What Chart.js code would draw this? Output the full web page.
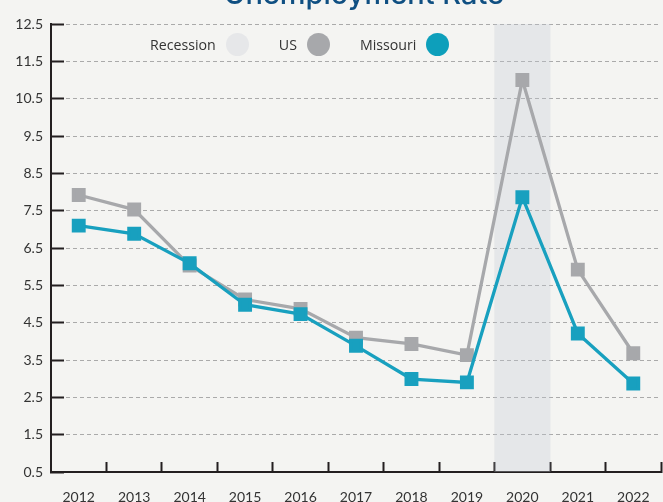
<!DOCTYPE html>
<html>
<head>
<meta charset="utf-8">
<script src="https://cdn.jsdelivr.net/npm/chart.js"></script>
<style>
  body { margin: 0; background: #f4f4f2; }
  #wrap { position: relative; width: 663px; height: 502px; overflow: hidden; }
  #legend { position: absolute; left: 150px; top: 33px; display: flex; align-items: center;
            font: 14.2px "Open Sans", sans-serif; color: #333; }
  #legend .item { display: flex; align-items: center; margin-right: 30px; }
  #legend .dot { width: 23px; height: 23px; border-radius: 50%; margin-left: 10px; }
</style>
</head>
<body>
<div id="wrap">
  <canvas id="chart" width="663" height="502"></canvas>
  <div id="legend"></div>
</div>
<script>
// data
const years = ['2012', '2013', '2014', '2015', '2016', '2017', '2018', '2019', '2020', '2021', '2022'];
const usRate = [7.92, 7.53, 6.03, 5.12, 4.87, 4.1, 3.93, 3.63, 11.0, 5.92, 3.68];
const moRate = [7.1, 6.88, 6.09, 4.98, 4.73, 3.88, 2.99, 2.9, 7.86, 4.21, 2.87];
const recession = [null, null, null, null, null, null, null, null, 12.5, null, null];
const legendNames = ['Recession', 'US', 'Missouri'];
const legendColors = ['#e6e7e9', '#a7a8ab', '#0d9fbb'];
const titleText = 'Unemployment Rate';

// legend: text first, dot after it
const legendEl = document.getElementById('legend');
legendNames.forEach((name, i) => {
  const item = document.createElement('div');
  item.className = 'item';
  item.innerHTML = '<span>' + name + '</span><span class="dot" style="background:' + legendColors[i] + '"></span>';
  legendEl.appendChild(item);
});

// title is cut off by the top edge in the original
const cutTitle = {
  id: 'cutTitle',
  afterDraw(chart) {
    const ctx = chart.ctx;
    ctx.save();
    ctx.font = '500 29px Inter';
    ctx.fillStyle = '#0f4f82';
    ctx.textAlign = 'center';
    ctx.textBaseline = 'alphabetic';
    ctx.fillText(titleText, 364, 4);
    ctx.restore();
  }
};

const tickFont = { family: 'Lato', size: 14 };

new Chart(document.getElementById('chart'), {
  type: 'line',
  data: {
    labels: years,
    datasets: [
      {
        type: 'bar',
        label: 'Recession',
        data: recession,
        backgroundColor: 'rgba(197,201,212,0.3)',
        barPercentage: 1,
        categoryPercentage: 1,
        order: 3
      },
      {
        label: 'US',
        data: usRate,
        borderColor: '#a7a8ab',
        backgroundColor: '#a7a8ab',
        borderWidth: 3.3,
        pointStyle: 'rect',
        pointRadius: 7.5,
        pointHoverRadius: 7.5,
        tension: 0,
        order: 2
      },
      {
        label: 'Missouri',
        data: moRate,
        borderColor: '#18a0bf',
        backgroundColor: '#18a0bf',
        borderWidth: 3.3,
        pointStyle: 'rect',
        pointRadius: 7.5,
        pointHoverRadius: 7.5,
        tension: 0,
        order: 1
      }
    ]
  },
  options: {
    responsive: false,
    animation: false,
    layout: { autoPadding: false, padding: { top: 24, right: 2, left: 0, bottom: 0 } },
    plugins: {
      legend: { display: false },
      tooltip: { enabled: false }
    },
    scales: {
      x: {
        offset: true,
        afterFit(scale) {
          scale.height = 30;
          scale.paddingLeft = 0;
          scale.paddingRight = 0;
        },
        grid: {
          offset: true,
          drawOnChartArea: false,
          drawTicks: true,
          tickLength: -10,
          tickWidth: 2,
          tickColor: (c) => (c.index === 0 || c.index === years.length) ? 'rgba(0,0,0,0)' : '#231f20'
        },
        border: { display: true, color: '#231f20', width: 2 },
        ticks: { color: '#333', font: { family: 'Lato', size: 14 }, padding: 27, maxRotation: 0 }
      },
      y: {
        min: 0.5,
        max: 12.5,
        afterFit(scale) {
          scale.width = 51;
          scale.paddingTop = 0;
          scale.paddingBottom = 0;
        },
        ticks: { stepSize: 1, color: '#333', font: tickFont, padding: 21 },
        grid: {
          color: '#aaaaaa',
          lineWidth: 1,
          drawTicks: true,
          tickLength: -13,
          tickWidth: 2,
          tickColor: '#231f20'
        },
        border: { display: true, color: '#231f20', width: 2, dash: [4, 3] }
      }
    }
  },
  plugins: [cutTitle]
});
</script>
</body>
</html>
